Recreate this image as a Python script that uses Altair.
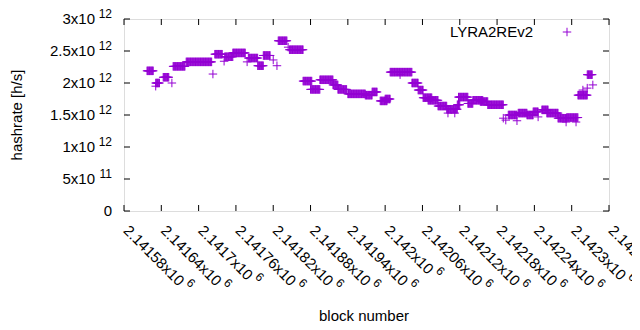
import altair as alt
import pandas as pd

# ---- data ----
BASE = 2141580
# runs of blocks sharing one hashrate estimate: start offset, end offset, hashrate (1e12 h/s)
seg_start = [37, 51, 51, 63, 77, 79, 100, 143, 146, 161, 162, 175, 198, 200, 215, 224, 240, 246, 248, 264, 266,
             288, 300, 315, 336, 344, 360, 388, 399, 412, 420, 428, 444, 463, 473, 481, 489, 505, 519, 521, 532,
             536, 538, 553, 561, 573, 585, 610, 614, 618, 632, 634, 648, 658, 666, 672, 680, 698, 711, 712, 727,
             730, 738, 745, 745, 754]
seg_end = [47, 57, 51, 72, 77, 98, 141, 143, 158, 161, 175, 195, 198, 215, 224, 235, 240, 246, 262, 264, 288,
           302, 315, 336, 344, 358, 388, 399, 407, 423, 428, 463, 444, 473, 481, 495, 505, 519, 536, 521, 532,
           540, 553, 561, 577, 585, 610, 610, 614, 632, 632, 648, 658, 666, 666, 682, 698, 712, 711, 730, 727,
           745, 738, 745, 753, 754]
seg_value = [2.19, 2.00, 1.95, 2.09, 2.00, 2.26, 2.33, 2.14, 2.45, 2.34, 2.41, 2.47, 2.33, 2.39, 2.27, 2.43, 2.36,
             2.27, 2.66, 2.56, 2.52, 2.03, 1.90, 2.05, 1.97, 1.90, 1.83, 1.81, 1.86, 1.72, 1.75, 2.17, 2.13, 2.00,
             1.89, 1.77, 1.73, 1.64, 1.59, 1.53, 1.53, 1.66, 1.78, 1.68, 1.73, 1.71, 1.66, 1.45, 1.42, 1.50, 1.41,
             1.53, 1.50, 1.55, 1.47, 1.58, 1.53, 1.45, 1.39, 1.46, 1.39, 1.81, 1.89, 1.92, 2.13, 1.97]

x_ticks = [2141580 + 60 * k for k in range(14)]
x_tick_main = ["2.14158x10", "2.14164x10", "2.1417x10", "2.14176x10", "2.14182x10", "2.14188x10", "2.14194x10",
               "2.142x10", "2.14206x10", "2.14212x10", "2.14218x10", "2.14224x10", "2.1423x10", "2.14236x10"]
x_tick_sup = ["6"] * 14
y_ticks = [0, 0.5e12, 1e12, 1.5e12, 2e12, 2.5e12, 3e12]
y_tick_main = ["0", "5x10", "1x10", "1.5x10", "2x10", "2.5x10", "3x10"]
y_tick_sup = ["", "11", "12", "12", "12", "12", "12"]
series_name = "LYRA2REv2"
x_title = "block number"
y_title = "hashrate [h/s]"

rows = []
for s, e, v in zip(seg_start, seg_end, seg_value):
    for b in range(s, e + 1):
        rows.append({"block": BASE + b, "hashrate": v * 1e12})
df = pd.DataFrame(rows)

xt = pd.DataFrame({"v": x_ticks, "main": x_tick_main, "sup": x_tick_sup})
yt = pd.DataFrame({"v": y_ticks, "main": y_tick_main, "sup": y_tick_sup})
one = pd.DataFrame({"k": [0]})

W, H = 485, 192
COLOR = "#9400D3"
FONT = "Liberation Sans"
FS = 15
SFS = 12
PLUS = "M-1,0H1M0,-1V1"

xs = alt.Scale(domain=[2141580, 2142360], nice=False, zero=False)
ys = alt.Scale(domain=[0, 3e12], nice=False, zero=False)
X = alt.X("block:Q", scale=xs, axis=None)
Y = alt.Y("hashrate:Q", scale=ys, axis=None)

points = alt.Chart(df).mark_point(shape=PLUS, filled=False, strokeWidth=1, size=72, color=COLOR, opacity=1).encode(x=X, y=Y)

xv = alt.X("v:Q", scale=xs, axis=None)
yv = alt.Y("v:Q", scale=ys, axis=None)
tick_bottom = alt.Chart(xt).mark_rule(color="black", strokeWidth=1).encode(x=xv, y=alt.value(H - 6), y2=alt.value(H))
tick_top = alt.Chart(xt).mark_rule(color="black", strokeWidth=1).encode(x=xv, y=alt.value(0), y2=alt.value(6))
tick_left = alt.Chart(yt).mark_rule(color="black", strokeWidth=1).encode(y=yv, x=alt.value(0), x2=alt.value(6))
tick_right = alt.Chart(yt).mark_rule(color="black", strokeWidth=1).encode(y=yv, x=alt.value(W - 6), x2=alt.value(W))

# y tick labels: superscript right-aligned, main text right-aligned before it
ylab_sup = alt.Chart(yt).mark_text(align="right", baseline="middle", font=FONT, fontSize=SFS, dy=-5, color="black").encode(
    y=yv, x=alt.value(-12), text="sup:N")
ylab_main = alt.Chart(yt).mark_text(align="right", baseline="middle", font=FONT, fontSize=FS, color="black",
                                    dx=alt.ExprRef("datum.sup == '' ? 0 : -17")).encode(
    y=yv, x=alt.value(-12), text="main:N")

# x tick labels, rotated
xlab_main = alt.Chart(xt).mark_text(align="left", baseline="top", angle=45, font=FONT, fontSize=FS, color="black",
                                    dx=5, dy=-5).encode(
    x=xv, y=alt.value(H + 12), text="main:N")
xlab_sup = alt.Chart(xt).mark_text(align="left", baseline="top", angle=45, font=FONT, fontSize=SFS, color="black",
                                   dx=alt.ExprRef(f"{FS}*(0.556*(length(datum.main)-2)+0.778)+8"), dy=-10).encode(
    x=xv, y=alt.value(H + 12), text="sup:N")

title_x = alt.Chart(one).mark_text(align="center", baseline="middle", font=FONT, fontSize=FS, color="black").encode(
    x=alt.value(240), y=alt.value(297), text=alt.value(x_title))
title_y = alt.Chart(one).mark_text(align="center", baseline="middle", angle=270, font=FONT, fontSize=FS, color="black").encode(
    x=alt.value(-107), y=alt.value(96), text=alt.value(y_title))

leg_text = alt.Chart(one).mark_text(align="right", baseline="middle", font=FONT, fontSize=FS, color="black").encode(
    x=alt.value(409), y=alt.value(13), text=alt.value(series_name))
leg_pt = alt.Chart(one).mark_point(shape=PLUS, filled=False, strokeWidth=1, size=72, color=COLOR, opacity=1).encode(
    x=alt.value(443), y=alt.value(13))

chart = alt.layer(
    points, tick_bottom, tick_top, tick_left, tick_right,
    ylab_sup, ylab_main, xlab_main, xlab_sup, title_x, title_y, leg_text, leg_pt
).properties(
    width=W, height=H,
    autosize=alt.AutoSizeParams(type="none"),
    padding={"left": 116, "top": 11, "right": 23, "bottom": 111},
).configure_view(stroke="black", strokeWidth=1).configure(background="white")

chart.save("out.html", embed_options={"renderer": "svg", "actions": False})
